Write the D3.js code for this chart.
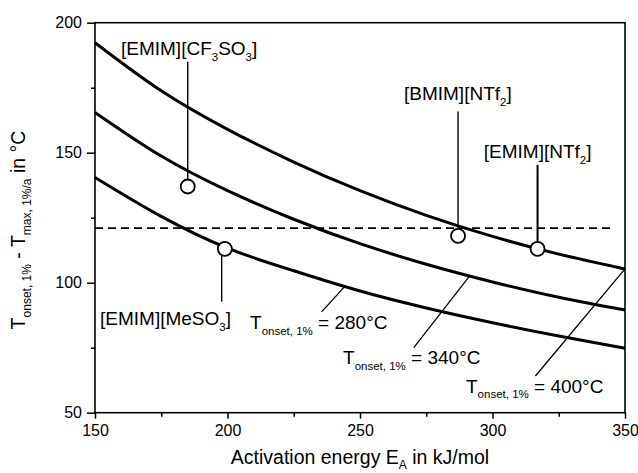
<!DOCTYPE html>
<html>
<head>
<meta charset="utf-8">
<script src="https://cdn.jsdelivr.net/npm/d3@7"></script>
<style>
  html, body { margin: 0; padding: 0; background: #fff; }
  svg text { font-family: "Liberation Sans", Arial, Helvetica, sans-serif; fill: #000; }
</style>
</head>
<body>
<svg id="chart" width="638" height="473"></svg>
<script>
// Activation energy grid (kJ/mol) and the three isotherm curves (°C)
const activationEnergy = [150, 175, 200, 225, 250, 275, 300, 325, 350];
const curve280 = [140.5, 125.5, 113.3, 104.6, 96.8, 90.3, 84.6, 79.5, 74.8];
const curve340 = [165.5, 148.7, 135.4, 124.4, 115.0, 107.1, 100.3, 94.4, 89.5];
const curve400 = [192.3, 173.8, 159.0, 146.4, 135.4, 125.9, 117.8, 111.0, 105.3];
const curveOnset = [280, 340, 400];

// Ionic liquids
const liquidNames = ["[EMIM][CF3SO3]", "[EMIM][MeSO3]", "[BMIM][NTf2]", "[EMIM][NTf2]"];
const liquidEa = [185, 199, 287, 317];
const liquidDeltaT = [137, 113, 118, 113];

// Horizontal reference level
const referenceDeltaT = 121;
const referenceRange = [150, 345];

// Axis ticks
const xTicks = [150, 200, 250, 300, 350];
const xMinorTicks = [175, 225, 275, 325];
const yTicks = [50, 100, 150, 200];
const yMinorTicks = [75, 125, 175];

const svg = d3.select("#chart");
const W = 638, H = 473;
const m = { left: 95, right: 13, top: 22.7, bottom: 60.3 };
const x = d3.scaleLinear().domain([150, 350]).range([m.left, W - m.right]);
const y = d3.scaleLinear().domain([50, 200]).range([H - m.bottom, m.top]);

svg.append("rect").attr("width", W).attr("height", H).attr("fill", "#fff");

// Rich text helper: segments of [text, "sub" | null]
function richText(g, segs, px, py, size, subSize, shift) {
  const dyS = shift === undefined ? size * 0.3 : shift;
  const t = g.append("text").attr("x", px).attr("y", py).attr("font-size", size);
  let shifted = false;
  segs.forEach(([s, kind]) => {
    const sp = t.append("tspan").text(s);
    if (kind === "sub") {
      sp.attr("font-size", subSize).attr("dy", shifted ? 0 : dyS);
      shifted = true;
    } else {
      sp.attr("dy", shifted ? -dyS : 0);
      shifted = false;
    }
  });
  return t;
}

// Axes (bottom/left with ticks)
const xAxis = d3.axisBottom(x).tickValues(xTicks).tickSize(6).tickPadding(6).tickFormat(d3.format("d"));
svg.append("g").attr("transform", `translate(0,${y(50)})`).call(xAxis);
const xMinor = d3.axisBottom(x).tickValues(xMinorTicks).tickSize(4).tickFormat("");
svg.append("g").attr("transform", `translate(0,${y(50)})`).call(xMinor);

const yAxis = d3.axisLeft(y).tickValues(yTicks).tickSize(8).tickPadding(5).tickFormat(d3.format("d"));
svg.append("g").attr("transform", `translate(${x(150)},0)`).call(yAxis);
const yMinor = d3.axisLeft(y).tickValues(yMinorTicks).tickSize(4).tickFormat("");
svg.append("g").attr("transform", `translate(${x(150)},0)`).call(yMinor);

svg.selectAll(".domain").remove();
svg.selectAll(".tick line").attr("stroke", "#000").attr("stroke-width", 1.5);
svg.selectAll(".tick text").attr("font-size", 16).attr("font-family", "'Liberation Sans', Arial, sans-serif").attr("fill", "#000");

// Frame
svg.append("rect")
  .attr("x", x(150)).attr("y", y(200))
  .attr("width", x(350) - x(150)).attr("height", y(50) - y(200))
  .attr("fill", "none").attr("stroke", "#000").attr("stroke-width", 1.6);

// Reference dashed level
svg.append("line")
  .attr("x1", x(referenceRange[0])).attr("x2", x(referenceRange[1]))
  .attr("y1", y(referenceDeltaT)).attr("y2", y(referenceDeltaT))
  .attr("stroke", "#000").attr("stroke-width", 1.8).attr("stroke-dasharray", "8,5");

// Curves
const line = d3.line().x((d, i) => x(activationEnergy[i])).y(d => y(d)).curve(d3.curveNatural);
[curve280, curve340, curve400].forEach(c => {
  svg.append("path").attr("d", line(c))
    .attr("fill", "none").attr("stroke", "#000").attr("stroke-width", 3);
});

// Curve annotations: label position (data units) and leader from label to curve
const curveLabels = [
  { lx: 208.5, ly: 82.2, from: [235.5, 88.8], toE: 244.3, curve: curve280 },
  { lx: 243.6, ly: 68.6, from: [270.3, 75.0], toE: 291.4, curve: curve340 },
  { lx: 290.0, ly: 57.7, from: [316.2, 64.1], toE: 350, curve: curve400 }
];
const curveAt = (c, e) => d3.scaleLinear().domain(activationEnergy).range(c)(e);
curveLabels.forEach((a, i) => {
  svg.append("line")
    .attr("x1", x(a.from[0])).attr("y1", y(a.from[1]))
    .attr("x2", x(a.toE)).attr("y2", y(curveAt(a.curve, a.toE)))
    .attr("stroke", "#000").attr("stroke-width", 1.3);
  richText(svg, [["T", null], ["onset, 1%", "sub"], [` = ${curveOnset[i]}°C`, null]],
    x(a.lx), y(a.ly), 19, 11.5);
});

// Liquid annotations: label placement and leader end (data units)
const liquidSegs = [
  [["[EMIM][CF", null], ["3", "sub"], ["SO", null], ["3", "sub"], ["]", null]],
  [["[EMIM][MeSO", null], ["3", "sub"], ["]", null]],
  [["[BMIM][NTf", null], ["2", "sub"], ["]", null]],
  [["[EMIM][NTf", null], ["2", "sub"], ["]", null]]
];
const liquidLabels = [
  { lx: 159.8, ly: 187.6, lead: 185.0, dir: -1, leadE: 185 },
  { lx: 151.9, ly: 83.7, lead: 92.7, dir: 1, leadE: 197.8 },
  { lx: 266.6, ly: 170.3, lead: 165.8, dir: -1, leadE: 287 },
  { lx: 296.7, ly: 148.0, lead: 145.3, dir: -1, leadE: 317 }
];
const r = 7;
liquidNames.forEach((name, i) => {
  const a = liquidLabels[i];
  const cy = y(liquidDeltaT[i]);
  svg.append("line")
    .attr("x1", x(a.leadE)).attr("x2", x(a.leadE))
    .attr("y1", y(a.lead)).attr("y2", cy + (a.dir < 0 ? -r : r))
    .attr("stroke", "#000").attr("stroke-width", i === 3 ? 2 : 1.4);
  richText(svg, liquidSegs[i], x(a.lx), y(a.ly), 19, 11.5).attr("data-name", name);
});
liquidNames.forEach((name, i) => {
  svg.append("circle")
    .attr("cx", x(liquidEa[i])).attr("cy", y(liquidDeltaT[i])).attr("r", r)
    .attr("fill", "#fff").attr("stroke", "#000").attr("stroke-width", 1.8);
});

// Axis titles
richText(svg, [["Activation energy E", null], ["A", "sub"], [" in kJ/mol", null]],
  (x(150) + x(350)) / 2, 464, 19.5, 12, 4.5).attr("text-anchor", "middle");

const yt = richText(svg, [["T", null], ["onset, 1%", "sub"], [" - T", null], ["max, 1%/a", "sub"], [" in °C", null]],
  0, 0, 19.5, 12);
yt.attr("x", null).attr("y", null).attr("text-anchor", "middle")
  .attr("transform", "translate(25,230) rotate(-90)");
</script>
</body>
</html>
